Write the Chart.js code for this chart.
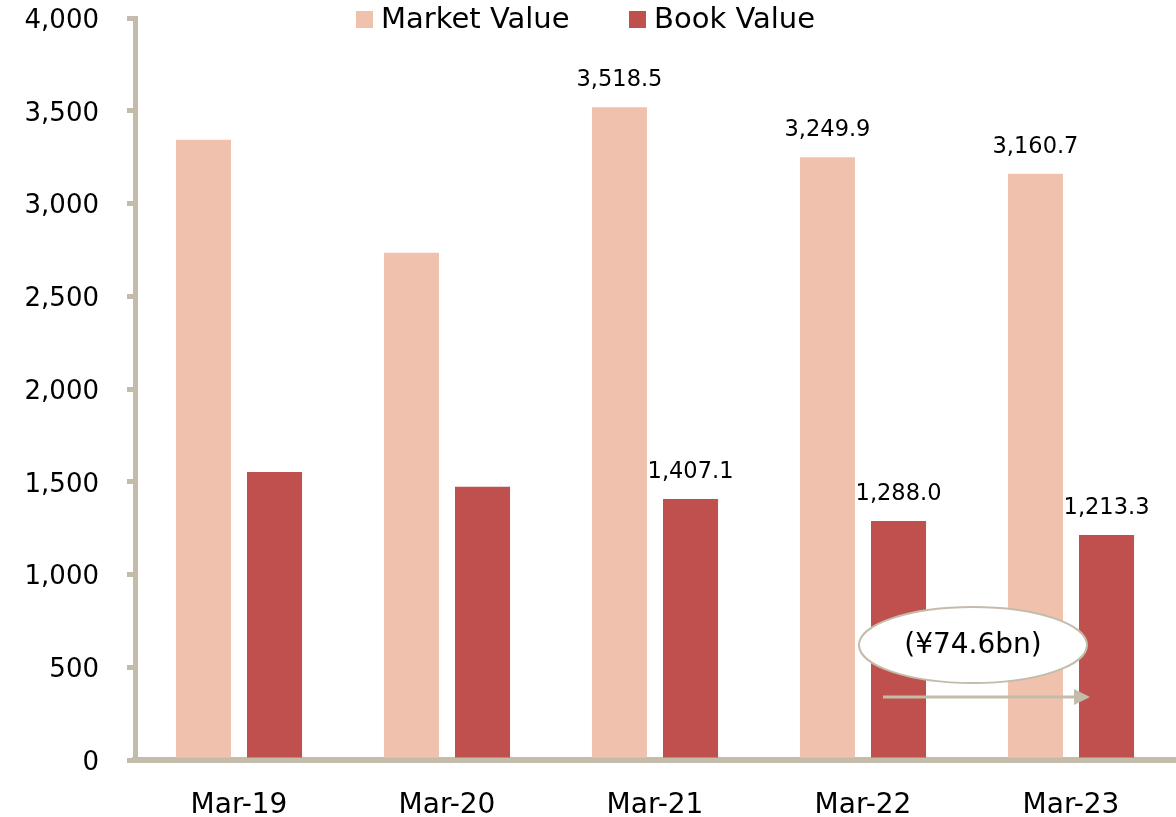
<!DOCTYPE html>
<html lang="en">
<head>
    <meta charset="UTF-8">
    <title>Market Value vs Book Value</title>
    <script src="https://cdn.jsdelivr.net/npm/chart.js"></script>
    <style>
        html, body { margin: 0; padding: 0; background: #fff; }
        #wrap { width: 1176px; height: 817px; }
    </style>
</head>
<body>
<div id="wrap"><canvas id="valueChart" width="1176" height="817"></canvas></div>

<script>
const categories = ['Mar-19', 'Mar-20', 'Mar-21', 'Mar-22', 'Mar-23'];
const marketValues = [3344, 2735, 3518.5, 3249.9, 3160.7];
const bookValues = [1553, 1473, 1407.1, 1288.0, 1213.3];
const showLabel = [false, false, true, true, true];
const yTicks = [0, 500, 1000, 1500, 2000, 2500, 3000, 3500, 4000];

// note in the ellipse and the arrow below it (in data units)
const noteText = '(¥74.6bn)';
const noteY = 620;
const arrowY = 340;

const FONT = "'DejaVu Sans', Verdana, sans-serif";
const axisColor = '#C4BCAA';

const fmt = v => v.toLocaleString('en-US', { minimumFractionDigits: 1, maximumFractionDigits: 1 });

const labelsPlugin = {
    id: 'valueLabels',
    afterDatasetsDraw(chart) {
        const ctx = chart.ctx;
        ctx.save();
        ctx.font = '22.5px ' + FONT;
        ctx.fillStyle = '#000';
        ctx.textAlign = 'center';
        ctx.textBaseline = 'middle';
        chart.data.datasets.forEach((ds, di) => {
            chart.getDatasetMeta(di).data.forEach((bar, i) => {
                if (!showLabel[i]) return;
                ctx.fillText(fmt(ds.data[i]), bar.x, bar.y - 27);
            });
        });
        ctx.restore();
    }
};

const extrasPlugin = {
    id: 'extras',
    afterDraw(chart) {
        const ctx = chart.ctx;
        const x = chart.scales.x, y = chart.scales.y;
        ctx.save();

        // legend
        ctx.font = '29px ' + FONT;
        ctx.textBaseline = 'middle';
        ctx.textAlign = 'left';
        const items = [{ ds: 0, left: 356 }, { ds: 1, left: 629 }];
        items.forEach(it => {
            const ds = chart.data.datasets[it.ds];
            ctx.fillStyle = ds.backgroundColor;
            ctx.fillRect(it.left, 11, 17, 17);
            ctx.fillStyle = '#000';
            ctx.fillText(ds.label, it.left + 25, 20);
        });

        // ellipse note
        const cx = (x.getPixelForValue(3) + x.getPixelForValue(4)) / 2 + 6;
        const cy = y.getPixelForValue(noteY);
        ctx.beginPath();
        ctx.ellipse(cx, cy, 114, 38, 0, 0, Math.PI * 2);
        ctx.fillStyle = '#fff';
        ctx.fill();
        ctx.lineWidth = 2;
        ctx.strokeStyle = axisColor;
        ctx.stroke();
        ctx.fillStyle = '#000';
        ctx.textAlign = 'center';
        ctx.font = '28px ' + FONT;
        ctx.fillText(noteText, cx, cy + 1);

        // arrow
        const ay = y.getPixelForValue(arrowY);
        const x0 = x.getPixelForValue(3) + 20;
        const x1 = x.getPixelForValue(4) + 19;
        ctx.beginPath();
        ctx.moveTo(x0, ay);
        ctx.lineTo(x1 - 12, ay);
        ctx.lineWidth = 3;
        ctx.strokeStyle = axisColor;
        ctx.stroke();
        ctx.beginPath();
        ctx.moveTo(x1, ay);
        ctx.lineTo(x1 - 16, ay - 8);
        ctx.lineTo(x1 - 16, ay + 8);
        ctx.closePath();
        ctx.fillStyle = axisColor;
        ctx.fill();

        ctx.restore();
    }
};

new Chart(document.getElementById('valueChart'), {
    type: 'bar',
    data: {
        labels: categories,
        datasets: [
            { label: 'Market Value', data: marketValues, backgroundColor: '#F0C2AE' },
            { label: 'Book Value', data: bookValues, backgroundColor: '#C0504D' }
        ]
    },
    options: {
        responsive: false,
        animation: false,
        devicePixelRatio: 1,
        categoryPercentage: 0.683,
        barPercentage: 0.775,
        layout: { padding: { top: 18, right: 1, bottom: 0, left: 0 } },
        plugins: {
            legend: { display: false },
            tooltip: { enabled: false }
        },
        scales: {
            x: {
                grid: { display: false, drawTicks: false },
                border: { display: true, color: axisColor, width: 6 },
                ticks: { color: '#000', font: { family: FONT, size: 28 }, padding: 29 },
                afterFit(scale) { scale.height = 57; }
            },
            y: {
                min: 0,
                max: 4000,
                afterBuildTicks(scale) { scale.ticks = yTicks.map(v => ({ value: v })); },
                grid: { drawOnChartArea: false, drawTicks: true, tickLength: 8, color: axisColor, lineWidth: 5 },
                border: { display: true, color: axisColor, width: 5 },
                ticks: {
                    color: '#000',
                    font: { family: FONT, size: 26 },
                    padding: 28,
                    labelOffset: 3,
                    callback: v => v.toLocaleString('en-US')
                },
                afterFit(scale) {
                    scale.width = 135;
                    scale.paddingTop = 0;
                    scale.paddingBottom = 0;
                }
            }
        }
    },
    plugins: [labelsPlugin, extrasPlugin]
});
</script>
</body>
</html>
